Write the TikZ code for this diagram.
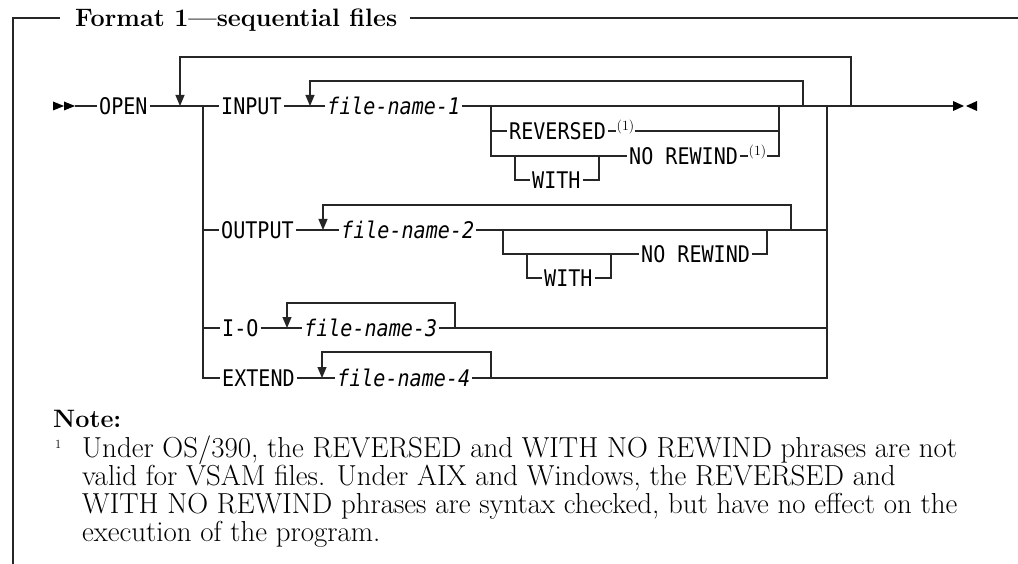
\documentclass[tikz,border=0pt]{standalone}
\usepackage{fontspec}
\usetikzlibrary{arrows.meta}
\newfontfamily\dmono[FakeStretch=0.877]{DejaVu Sans Mono}
\newlength\wfit
\begin{document}
\settowidth\wfit{\bfseries\fontsize{25}{30}\selectfont Format 1—sequential files}%
\pgfmathsetmacro\tsz{(322/\wfit)*25}%
\settowidth\wfit{\fontsize{25}{30}\selectfont Under OS/390, the REVERSED and WITH NO REWIND phrases are not}%
\pgfmathsetmacro\fsz{(875/\wfit)*25}%
\begin{tikzpicture}[x=1pt,y=-1pt,
  rail/.style={line width=1.1pt, draw=black!85, line join=miter},
  frame/.style={line width=1.2pt, draw=black!85},
  loopr/.style={rail, -{Triangle[length=11pt,width=9pt]}},
  tip/.style={fill=black},
  mono/.style={font=\dmono\fontsize{22.9}{24}\selectfont, inner xsep=2pt, inner ysep=0pt, text height=16.7pt, text depth=0pt, anchor=west},
  monoit/.style={mono, font=\dmono\itshape\fontsize{22.9}{24}\selectfont},
  supn/.style={font=\fontsize{14}{14}\selectfont, inner xsep=0.5pt, inner ysep=0pt, anchor=west},
  ]
\useasboundingbox[fill=white] (0,0) rectangle (1018,564);

% frame and title
\node[anchor=base west, inner sep=0pt, font=\bfseries\fontsize{\tsz}{\tsz}\selectfont] (title) at (75,27) {Format 1—sequential files};
\coordinate (fTL) at (13,18);
\coordinate (fA) at (60,18);
\coordinate (fB) at (410,18);
\coordinate (fC) at (1018,18);
\coordinate (fD) at (13,564);
\draw[frame] (fA) -- (fTL) -- (fD);
\draw[frame] (fB) -- (fC);

% text nodes
\node[mono] (open) at (97,106) {OPEN};
\node[mono] (input) at (219,106) {INPUT};
\node[monoit] (fn1) at (325,106) {file-name-1};
\node[mono] (rev) at (507,131) {REVERSED};
\node[supn] (s1a) at (616,127) {(1)};
\node[mono] (nrw1) at (627,156) {NO REWIND};
\node[supn] (s1b) at (748,152) {(1)};
\node[mono] (with1) at (530,180) {WITH};
\node[mono] (output) at (219,230) {OUTPUT};
\node[monoit] (fn2) at (339,230) {file-name-2};
\node[mono] (nrw2) at (639,254) {NO REWIND};
\node[mono] (with2) at (542,278) {WITH};
\node[mono] (io) at (220,328) {I-O};
\node[monoit] (fn3) at (302,328) {file-name-3};
\node[mono] (extend) at (220,378) {EXTEND};
\node[monoit] (fn4) at (335,378) {file-name-4};

% junction coordinates
\coordinate (m0) at (75,106);
\coordinate (oL) at (180,106);
\coordinate (bL) at (203,106);
\coordinate (iL) at (310,106);
\coordinate (g1L) at (491,106);
\coordinate (g1R) at (779,106);
\coordinate (iR) at (803,106);
\coordinate (cR) at (827,106);
\coordinate (oR) at (851,106);
\coordinate (mend) at (953,106);
\coordinate (w1L) at (515,156);
\coordinate (w1R) at (599,156);
\coordinate (oiL) at (323,230);
\coordinate (g2L) at (503,230);
\coordinate (g2R) at (767,230);
\coordinate (oiR) at (791,230);
\coordinate (w2L) at (527,254);
\coordinate (w2R) at (611,254);
\coordinate (ioL) at (287,328);
\coordinate (ioR) at (455,328);
\coordinate (exL) at (322,378);
\coordinate (exR) at (491,378);

% start and end marks
\fill[tip] (53,101.5) -- (64,106) -- (53,110.5) -- cycle;
\fill[tip] (64,101.5) -- (75,106) -- (64,110.5) -- cycle;
\fill[tip] (953,101) -- (964,106) -- (953,111) -- cycle;
\fill[tip] (977,101) -- (966,106) -- (977,111) -- cycle;

% main line
\draw[rail] (m0) -- (open.west);
\draw[rail] (open.east) -- (input.west);
\draw[rail] (input.east) -- (fn1.west);
\draw[rail] (fn1.east) -- (mend);

% repeat loops
\draw[loopr] (oR) -- ++(0,-49) -| (oL);
\draw[loopr] (iR) -- ++(0,-25) -| (iL);
\draw[loopr] (oiR) -- ++(0,-25) -| (oiL);
\draw[loopr] (ioR) -- ++(0,-25) -| (ioL);
\draw[loopr] (exR) -- ++(0,-26) -| (exL);

% left branch
\draw[rail] (bL) |- (extend.west);
\draw[rail] (bL |- output.west) -- (output.west);
\draw[rail] (bL |- io.west) -- (io.west);

% OUTPUT, I-O, EXTEND rows
\draw[rail] (output.east) -- (fn2.west);
\draw[rail] (fn2.east) -- (cR |- fn2.east);
\draw[rail] (io.east) -- (fn3.west);
\draw[rail] (fn3.east) -- (cR |- fn3.east);
\draw[rail] (extend.east) -- (fn4.west);
\draw[rail] (fn4.east) -| (cR);

% INPUT options
\draw[rail] (g1L) |- (nrw1.west);
\draw[rail] (g1L |- rev.west) -- (rev.west);
\draw[rail] (rev.east) -- (s1a.west |- rev.east);
\draw[rail] (s1a.east |- rev.east) -- (g1R |- rev.east);
\draw[rail] (nrw1.east) -- (s1b.west |- nrw1.east);
\draw[rail] (s1b.east |- nrw1.east) -| (g1R);
\draw[rail] (w1L) |- (with1.west);
\draw[rail] (with1.east) -| (w1R);

% OUTPUT options
\draw[rail] (g2L) |- (nrw2.west);
\draw[rail] (nrw2.east) -| (g2R);
\draw[rail] (w2L) |- (with2.west);
\draw[rail] (with2.east) -| (w2R);

% note
\node[anchor=base west, inner sep=0pt, font=\bfseries\fontsize{\tsz}{\tsz}\selectfont] (note) at (53,427) {Note:};
\node[anchor=base west, inner sep=0pt, font=\fontsize{12.5}{12.5}\selectfont] (fnmark) at (55,448) {1};
\node[anchor=base west, inner sep=0pt, font=\fontsize{\fsz}{\fsz}\selectfont] (l1) at (82,457) {Under OS/390, the REVERSED and WITH NO REWIND phrases are not};
\node[anchor=base west, inner sep=0pt, font=\fontsize{\fsz}{\fsz}\selectfont] (l2) at (82,485) {valid for VSAM files.  Under AIX and Windows, the REVERSED and};
\node[anchor=base west, inner sep=0pt, font=\fontsize{\fsz}{\fsz}\selectfont] (l3) at (82,513) {WITH NO REWIND phrases are syntax checked, but have no effect on the};
\node[anchor=base west, inner sep=0pt, font=\fontsize{\fsz}{\fsz}\selectfont] (l4) at (82,541) {execution of the program.};
\end{tikzpicture}
\end{document}
